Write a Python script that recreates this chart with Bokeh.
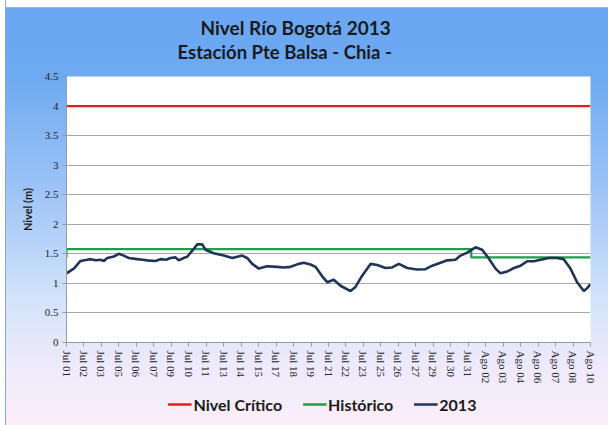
from bokeh.plotting import figure
from bokeh.layouts import column
from bokeh.models import (Range1d, FixedTicker, Title, Legend, LegendItem)
from bokeh.embed import file_html
from bokeh.resources import INLINE

# ---------------- data ----------------
tick_labels = ["Jul 01", "Jul 02", "Jul 03", "Jul 05", "Jul 06", "Jul 07", "Jul 09",
               "Jul 10", "Jul 11", "Jul 13", "Jul 14", "Jul 15", "Jul 17", "Jul 18",
               "Jul 19", "Jul 21", "Jul 22", "Jul 23", "Jul 25", "Jul 26", "Jul 27",
               "Jul 29", "Jul 30", "Jul 31", "Ago 02", "Ago 03", "Ago 04", "Ago 06",
               "Ago 07", "Ago 08", "Ago 10"]
tick_hours = [32 * i for i in range(len(tick_labels))]  # label every 32 h

# days since Jul 01 00:00
level_days = [0.00, 0.56, 1.07, 1.58, 1.83, 2.25, 2.60, 2.85, 3.11, 3.61, 3.99, 4.37,
              4.76, 5.40, 5.80, 6.16, 6.79, 7.18, 7.60, 7.94, 8.32, 8.57, 8.95, 9.21,
              9.72, 9.98, 10.36, 10.61, 11.24, 12.01, 12.65, 13.41, 13.79, 14.18,
              14.68, 15.32, 16.08, 16.59, 17.10, 17.73, 18.11, 18.63, 19.01, 19.52,
              19.90, 20.40, 20.92, 21.68, 22.06, 22.57, 23.21, 23.72, 24.35, 24.86,
              25.37, 26.01, 26.77, 27.40, 27.92, 28.55, 29.06, 29.69, 30.08, 30.59,
              31.22, 31.73, 32.24, 32.75, 33.13, 33.64, 34.15, 34.66, 35.17, 35.68,
              36.18, 36.82, 37.46, 37.95, 38.47, 38.98, 39.49, 39.75, 40.00]
level_2013 = [1.17, 1.25, 1.38, 1.40, 1.41, 1.39, 1.40, 1.38, 1.43, 1.455, 1.50, 1.47,
              1.43, 1.41, 1.40, 1.39, 1.38, 1.41, 1.40, 1.43, 1.44, 1.39, 1.43, 1.45,
              1.585, 1.66, 1.66, 1.57, 1.51, 1.47, 1.43, 1.47, 1.43, 1.33,
              1.25, 1.29, 1.28, 1.27, 1.28, 1.33, 1.35, 1.32, 1.28, 1.12,
              1.02, 1.06, 0.96, 0.87, 0.94, 1.13, 1.33, 1.31, 1.26, 1.27,
              1.33, 1.26, 1.235, 1.24, 1.30, 1.35, 1.39, 1.40, 1.47, 1.52,
              1.61, 1.57, 1.42, 1.25, 1.17, 1.20, 1.26, 1.30, 1.375, 1.375,
              1.40, 1.43, 1.43, 1.41, 1.25, 1.02, 0.87, 0.92, 0.99]

hist_days = [0.0, 0.0, 30.9, 30.9, 40.0]
hist_level = [1.44, 1.58, 1.58, 1.44, 1.44]

crit_days = [0.0, 40.0]
crit_level = [4.0, 4.0]

y_ticks = [0, 0.5, 1, 1.5, 2, 2.5, 3, 3.5, 4, 4.5]

series_names = ["Nivel Crítico", "Histórico", "2013"]
series_colors = ["#e41e1e", "#1f9e4a", "#1f3457"]
series_widths = [2.2, 2.2, 2.6]
series_days = [crit_days, hist_days, level_days]
series_vals = [crit_level, hist_level, level_2013]

# ---------------- main figure ----------------
TITLE_FONT = "Lato"
p = figure(frame_width=524, frame_height=266, output_backend="svg", toolbar_location=None,
           x_range=Range1d(0, 40 * 24), y_range=Range1d(0, 4.5),
           min_border_left=66, min_border_right=18, min_border_top=76,
           min_border_bottom=47)
p.border_fill_color = None
p.background_fill_color = "white"
p.outline_line_color = None

spacer = Title(text=" ", text_font_size="8px", standoff=3)
t2 = Title(text="Estación Pte Balsa - Chia -", align="left", offset=111,
           text_font=TITLE_FONT, text_font_size="18.5px", text_font_style="bold",
           text_color="#1a1a1a", standoff=0)
t1 = Title(text="Nivel Río Bogotá  2013", align="left", offset=134,
           text_font=TITLE_FONT, text_font_size="19px", text_font_style="bold",
           text_color="#1a1a1a", standoff=0)
p.add_layout(spacer, "above")
p.add_layout(t2, "above")
p.add_layout(t1, "above")

for ds, vs, col, w in zip(series_days, series_vals, series_colors, series_widths):
    p.line([d * 24 for d in ds], vs, line_color=col, line_width=w)

# axes
p.xaxis.ticker = FixedTicker(ticks=tick_hours)
p.xaxis.major_label_overrides = {h: lab for h, lab in zip(tick_hours, tick_labels)}
p.xaxis.major_label_orientation = "vertical"
p.yaxis.ticker = FixedTicker(ticks=y_ticks)
for ax in (p.xaxis, p.yaxis):
    ax.axis_line_color = "#9a9a9a"
    ax.major_tick_line_color = "#9a9a9a"
    ax.major_tick_out = 4
    ax.major_tick_in = 0
    ax.minor_tick_line_color = None
    ax.major_label_text_font = "Liberation Serif"
    ax.major_label_text_font_size = "11px"
    ax.major_label_text_color = "#222222"
    ax.major_label_standoff = 4
p.yaxis.axis_label = "Nivel (m)"
p.yaxis.axis_label_text_font = TITLE_FONT
p.yaxis.axis_label_text_font_style = "bold"
p.yaxis.axis_label_text_font_size = "11px"
p.yaxis.axis_label_text_color = "#1a1a1a"
p.yaxis.axis_label_standoff = 8

p.xgrid.grid_line_color = None
p.ygrid.grid_line_color = "#a8a8a8"
p.ygrid.grid_line_width = 1

# ---------------- legend strip ----------------
# same series drawn again, but outside this strip's visible y range,
# so only their legend entries show
lf = figure(width=608, height=36, output_backend="svg", toolbar_location=None,
            x_axis_type=None, y_axis_type=None,
            x_range=Range1d(0, 40), y_range=Range1d(10, 11),
            min_border_left=2, min_border_right=30, min_border_top=0, min_border_bottom=6)
lf.border_fill_color = None
lf.background_fill_color = None
lf.outline_line_color = None
lf.xgrid.grid_line_color = None
lf.ygrid.grid_line_color = None
items = []
for name, ds, vs, col, w in zip(series_names, series_days, series_vals,
                                series_colors, series_widths):
    r = lf.line(ds, vs, line_color=col, line_width=2.6)
    items.append(LegendItem(label=name, renderers=[r]))
legend = Legend(items=items, orientation="horizontal", location="center",
                background_fill_alpha=0, border_line_color=None,
                label_text_font=TITLE_FONT, label_text_font_style="bold",
                label_text_font_size="16px", label_text_color="#1a1a1a",
                glyph_width=24, label_standoff=2, spacing=20, padding=4, margin=0)
lf.add_layout(legend, "center")

layout = column(p, lf, spacing=0)
layout.styles = {"background": (
    "linear-gradient(to right, #ffffff 0px, #ffffff 5px, #8da6c9 5px, #8da6c9 6px, "
    "rgba(255,255,255,0) 6px), "
    "linear-gradient(to bottom, #ffffff 0px, #ffffff 7px, #a7b6c9 7px, #a7b6c9 8px, "
    "#6aa6f2 8px, #6eaaf2 18%, #9ec4f6 45%, #d2e3fa 70%, #eeeafb 86%, #fbeef9 100%)")}

open("out.html", "w").write(file_html(layout, INLINE))
